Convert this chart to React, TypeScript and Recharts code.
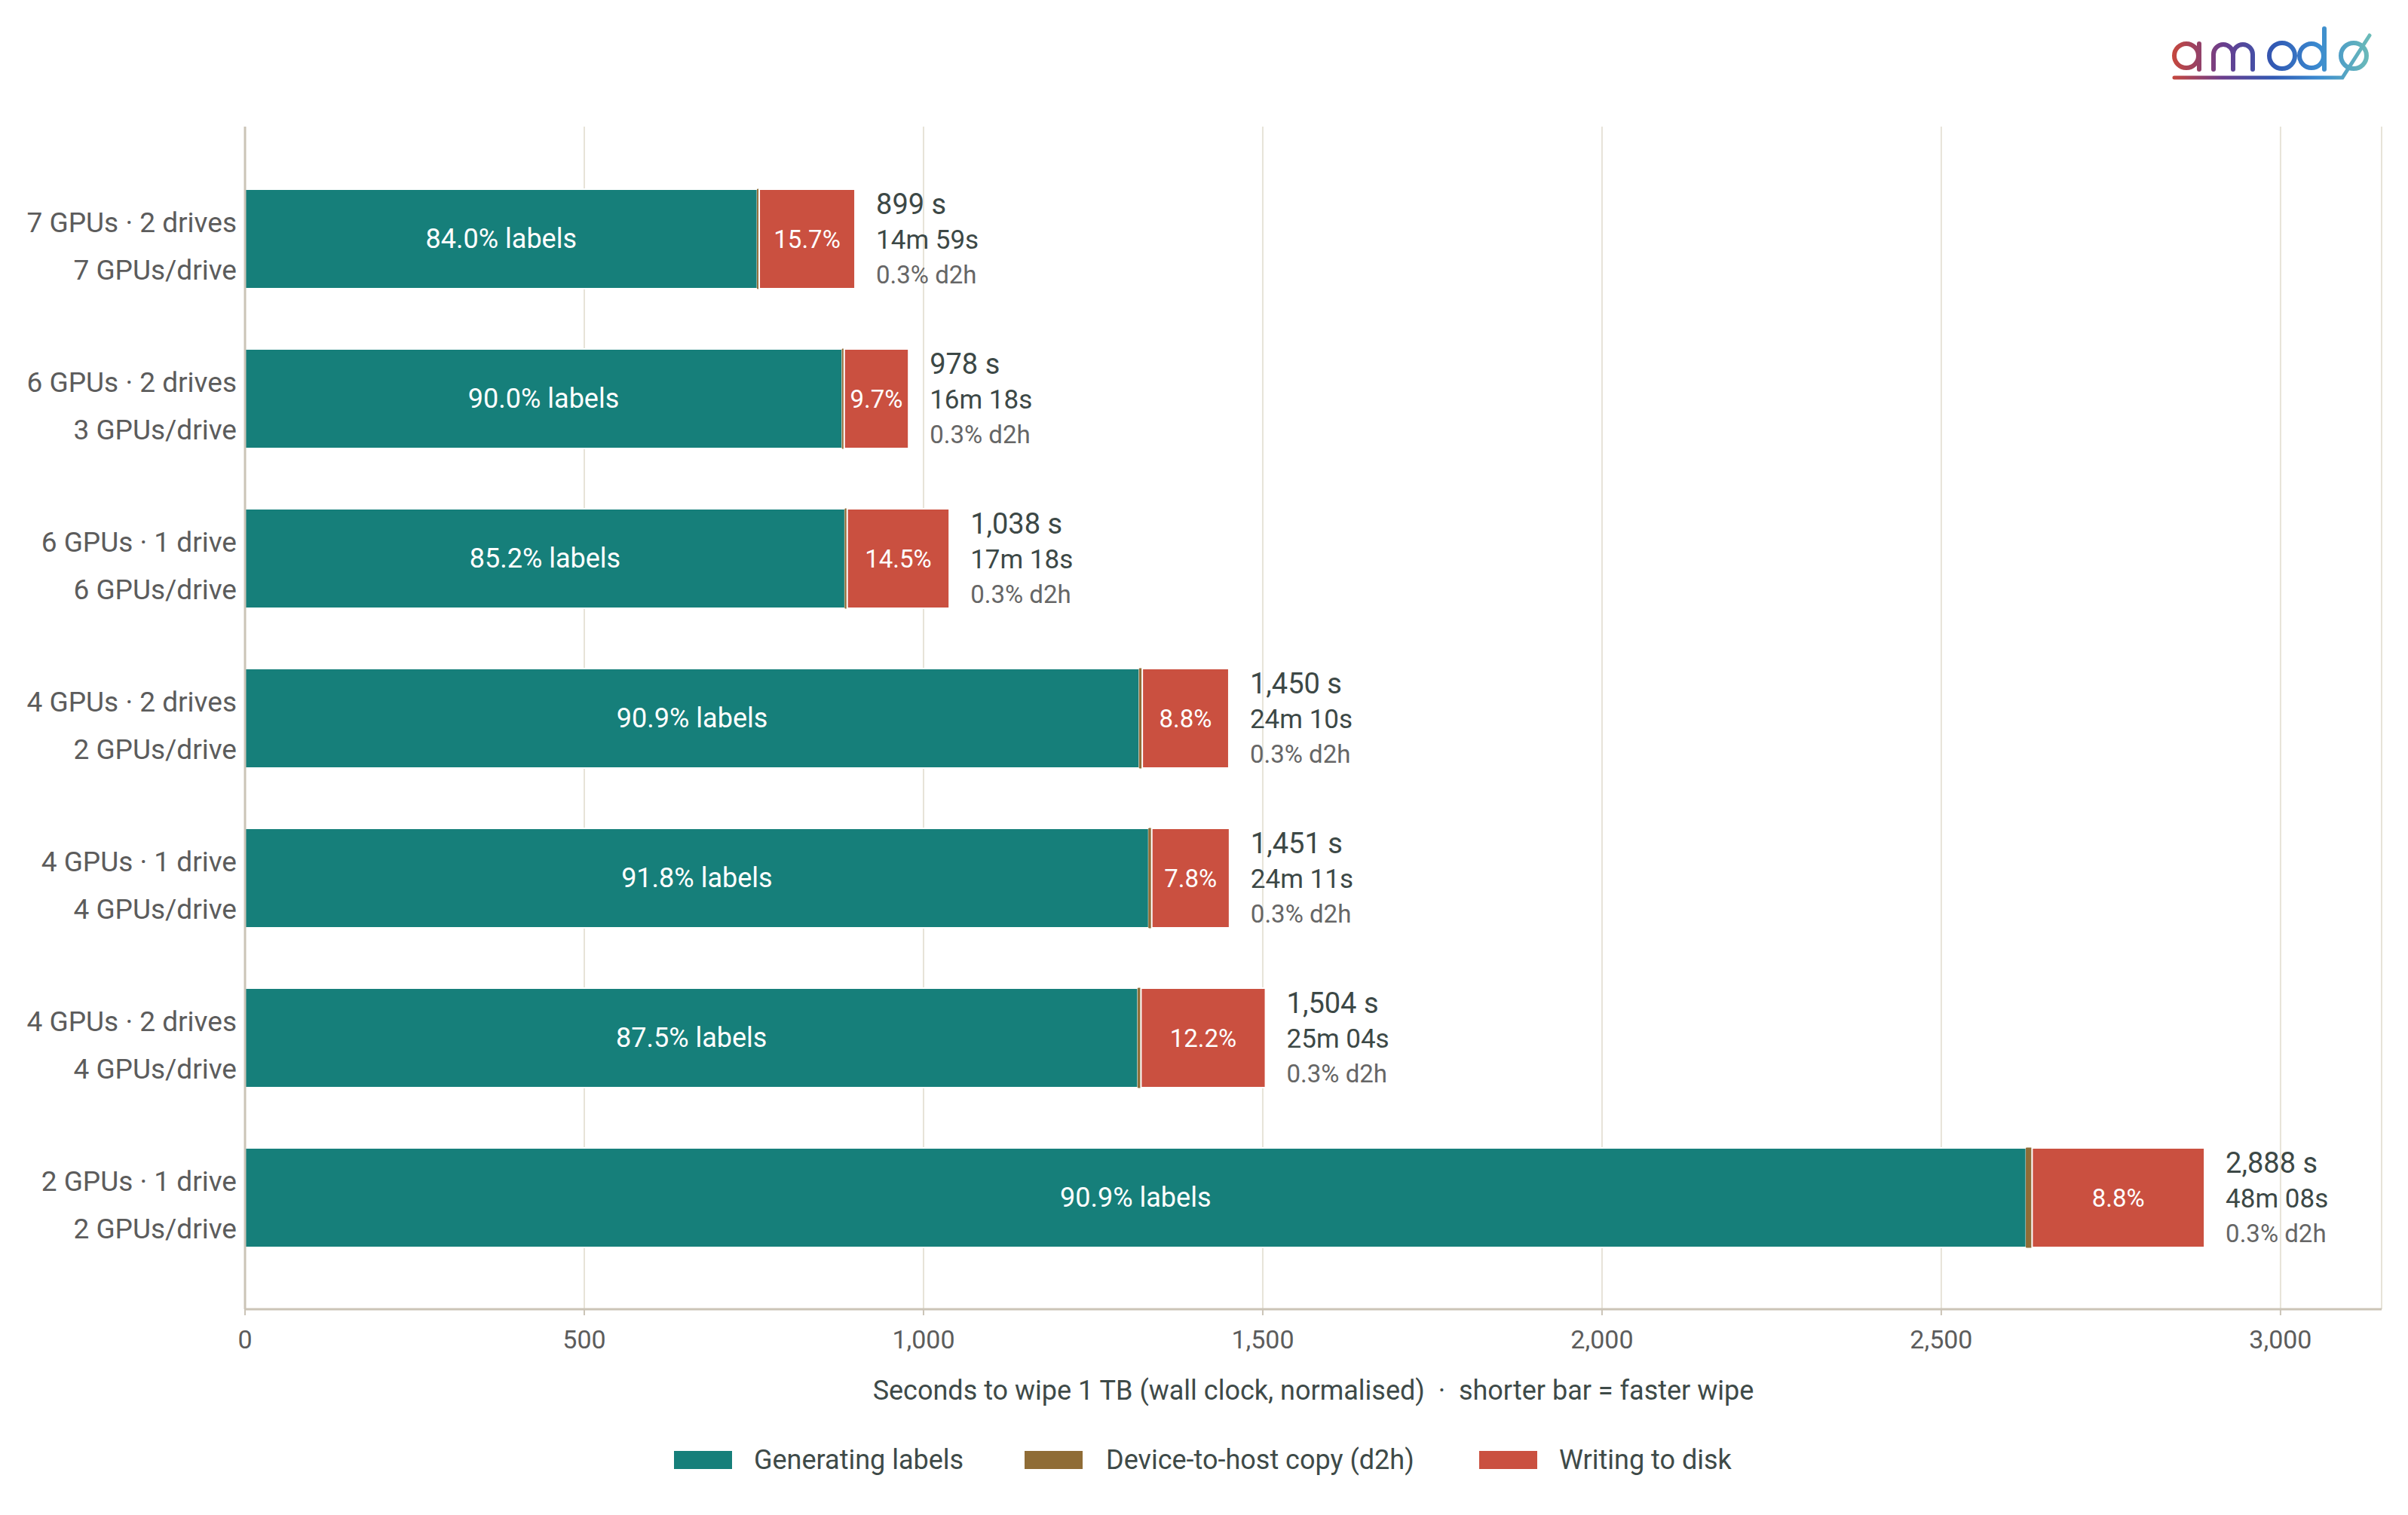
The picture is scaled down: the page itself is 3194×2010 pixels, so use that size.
import React from 'react';
import { BarChart, Bar, XAxis, YAxis, CartesianGrid, LabelList, Label } from 'recharts';

const configLine1 = ['7 GPUs · 2 drives', '6 GPUs · 2 drives', '6 GPUs · 1 drive', '4 GPUs · 2 drives', '4 GPUs · 1 drive', '4 GPUs · 2 drives', '2 GPUs · 1 drive'];
const configLine2 = ['7 GPUs/drive', '3 GPUs/drive', '6 GPUs/drive', '2 GPUs/drive', '4 GPUs/drive', '4 GPUs/drive', '2 GPUs/drive'];
const totalSeconds = [899, 978, 1038, 1450, 1451, 1504, 2888];
const wallClock = ['14m 59s', '16m 18s', '17m 18s', '24m 10s', '24m 11s', '25m 04s', '48m 08s'];
const labelsPct = [84.0, 90.0, 85.2, 90.9, 91.8, 87.5, 90.9];
const d2hPct = [0.3, 0.3, 0.3, 0.3, 0.3, 0.3, 0.3];
const diskPct = [15.7, 9.7, 14.5, 8.8, 7.8, 12.2, 8.8];
const xTicks = [0, 500, 1000, 1500, 2000, 2500, 3000];

const seriesNames = ['Generating labels', 'Device-to-host copy (d2h)', 'Writing to disk'];
const axisTitle = 'Seconds to wipe 1 TB (wall clock, normalised)\u00a0\u00a0·\u00a0\u00a0shorter bar = faster wipe';
const TEAL = '#167f7a';
const BROWN = '#8f6c36';
const RED = '#ca5040';
const FONT = 'Roboto, "Noto Sans", sans-serif';

const data = totalSeconds.map((t, i) => {
  const labels = (t * labelsPct[i]) / 100;
  const d2h = (t * d2hPct[i]) / 100;
  return { key: String(i), labels, d2h, disk: t - labels - d2h };
});

const fmt = (v: number) => v.toLocaleString('en-US');

const YTick = (props: any) => {
  const { y, payload } = props;
  const i = Number(payload.value);
  return (
    <g>
      <text x={314} y={y - 22} textAnchor="end" dominantBaseline="central" fontSize={37} fill="#5c5c5c" fontFamily={FONT}>
        {configLine1[i]}
      </text>
      <text x={314} y={y + 41} textAnchor="end" dominantBaseline="central" fontSize={37} fill="#5c5c5c" fontFamily={FONT}>
        {configLine2[i]}
      </text>
    </g>
  );
};

const LabelsInside = (props: any) => {
  const { x, y, width, height, value } = props;
  const i = Number(value);
  return (
    <text x={x + width / 2} y={y + height / 2} textAnchor="middle" dominantBaseline="central" fontSize={36} fill="#ffffff" fontFamily={FONT}>
      {`${labelsPct[i].toFixed(1)}% labels`}
    </text>
  );
};

const DiskInside = (props: any) => {
  const { x, y, width, height, value } = props;
  const i = Number(value);
  return (
    <text x={x + width / 2} y={y + height / 2} textAnchor="middle" dominantBaseline="central" fontSize={33} fill="#ffffff" fontFamily={FONT}>
      {`${diskPct[i].toFixed(1)}%`}
    </text>
  );
};

const RightNote = (props: any) => {
  const { x, y, width, height, value } = props;
  const i = Number(value);
  const cx = x + width + 28;
  const cy = y + height / 2;
  return (
    <g fontFamily={FONT}>
      <text x={cx} y={cy - 46} dominantBaseline="central" fontSize={38} fill="#3c4846">{`${fmt(totalSeconds[i])} s`}</text>
      <text x={cx} y={cy + 1} dominantBaseline="central" fontSize={35} fill="#3c4846">{wallClock[i]}</text>
      <text x={cx} y={cy + 47} dominantBaseline="central" fontSize={33} fill="#666666">{`${d2hPct[i].toFixed(1)}% d2h`}</text>
    </g>
  );
};

const AxisTitle = (props: any) => {
  const vb = props.viewBox || {};
  return (
    <text x={vb.x + vb.width / 2} y={vb.y + 108} textAnchor="middle" dominantBaseline="central" fontSize={36} fill="#3e4a48" fontFamily={FONT}>
      {axisTitle}
    </text>
  );
};

const legendItems = [
  { name: seriesNames[0], color: TEAL, sx: 894, tx: 1000 },
  { name: seriesNames[1], color: BROWN, sx: 1359, tx: 1467 },
  { name: seriesNames[2], color: RED, sx: 1962, tx: 2068 },
];

const Logo = () => (
  <svg width={3194} height={140} style={{ position: 'absolute', left: 0, top: 0 }}>
    <defs>
      <linearGradient id="lg" gradientUnits="userSpaceOnUse" x1={2880} y1={0} x2={3150} y2={0}>
        <stop offset="0" stopColor="#c8473b" />
        <stop offset="0.25" stopColor="#6b3d8c" />
        <stop offset="0.5" stopColor="#3158b3" />
        <stop offset="0.72" stopColor="#3a8ad0" />
        <stop offset="1" stopColor="#70c0b6" />
      </linearGradient>
    </defs>
    <g fill="none" stroke="url(#lg)" strokeWidth={6} strokeLinecap="round">
      <circle cx={2900} cy={74} r={16} />
      <path d="M2917 58 V92" />
      <path d="M2936 92 V72 a13 13 0 0 1 26 0 V92 M2962 72 a13 13 0 0 1 26 0 V92" />
      <circle cx={3027} cy={74} r={17} />
      <circle cx={3066} cy={74} r={16} />
      <path d="M3083 38 V92" />
      <circle cx={3122} cy={74} r={17} />
      <path d="M2884 103 H3107 L3143 47" strokeWidth={5} />
    </g>
  </svg>
);

export default function App() {
  return (
    <div style={{ position: 'absolute', left: 0, top: 0, width: 3194, height: 2010, background: '#ffffff', fontFamily: FONT }}>
      <BarChart
        width={3194}
        height={2010}
        data={data}
        layout="vertical"
        margin={{ top: 168, right: 35, bottom: 110, left: 0 }}
        barSize={132}
      >
        <CartesianGrid horizontal={false} stroke="#e7e3d8" strokeWidth={2} />
        <XAxis
          type="number"
          domain={[0, 3149]}
          ticks={xTicks}
          tickFormatter={fmt}
          height={163}
          axisLine={{ stroke: '#cbc4b7', strokeWidth: 3 }}
          tickLine={{ stroke: '#cbc4b7', strokeWidth: 2 }}
          tickSize={8}
          tickMargin={20}
          tick={{ fontSize: 34, fill: '#5c5c5c', fontFamily: FONT }}
        >
          <Label content={<AxisTitle />} />
        </XAxis>
        <YAxis
          type="category"
          dataKey="key"
          width={325}
          padding={{ top: 43, bottom: 42 }}
          axisLine={{ stroke: '#cbc4b7', strokeWidth: 3 }}
          tickLine={false}
          tick={<YTick />}
          interval={0}
        />
        <Bar dataKey="labels" stackId="s" fill={TEAL} stroke="#ffffff" strokeWidth={2} isAnimationActive={false}>
          <LabelList dataKey="key" content={<LabelsInside />} />
        </Bar>
        <Bar dataKey="d2h" stackId="s" fill={BROWN} stroke={BROWN} strokeWidth={1} isAnimationActive={false} />
        <Bar dataKey="disk" stackId="s" fill={RED} stroke="#ffffff" strokeWidth={2} isAnimationActive={false}>
          <LabelList dataKey="key" content={<DiskInside />} />
          <LabelList dataKey="key" content={<RightNote />} />
        </Bar>
      </BarChart>
      <svg width={3194} height={80} style={{ position: 'absolute', left: 0, top: 1897 }}>
        {legendItems.map((it) => (
          <g key={it.name}>
            <rect x={it.sx} y={40 - 12} width={77} height={24} fill={it.color} />
            <text x={it.tx} y={40} dominantBaseline="central" fontSize={36} fill="#3e4a48" fontFamily={FONT}>
              {it.name}
            </text>
          </g>
        ))}
      </svg>
      <Logo />
    </div>
  );
}
